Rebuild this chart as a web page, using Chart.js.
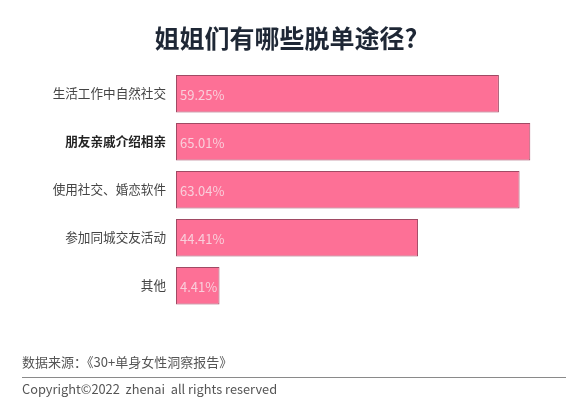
<!DOCTYPE html>
<html>
<head>
<meta charset="utf-8">
<script src="https://cdn.jsdelivr.net/npm/chart.js@4"></script>
<style>
  html, body { margin:0; padding:0; background:#ffffff; }
  #wrap { position:relative; width:588px; height:400px; overflow:hidden; font-family:"Noto Sans CJK SC","Noto Sans",sans-serif; }
  #c { position:absolute; left:0; top:0; }
  #title { position:absolute; left:0; width:572px; top:22px; text-align:center; font-size:25px; font-weight:700; color:#1e2735; line-height:30px; }
  #source { position:absolute; left:22px; top:353px; font-size:13px; color:#555; line-height:18px; }
  #rule { position:absolute; left:22px; top:377px; width:544px; height:1px; background:#8a8a8a; }
  #copy { position:absolute; left:22px; top:380px; font-size:12.8px; color:#555; line-height:18px; }
</style>
</head>
<body>
<div id="wrap">
  <canvas id="c" width="588" height="400"></canvas>
  <div id="title">姐姐们有哪些脱单途径?</div>
  <div id="source">数据来源：《30+单身女性洞察报告》</div>
  <div id="rule"></div>
  <div id="copy">Copyright©2022&nbsp; zhenai&nbsp; all rights reserved</div>
</div>
<script>
const categories = ["生活工作中自然社交", "朋友亲戚介绍相亲", "使用社交、婚恋软件", "参加同城交友活动", "其他"];
const values = [59.25, 65.01, 63.04, 44.41, 4.41];
const valueLabels = ["59.25%", "65.01%", "63.04%", "44.41%", "4.41%"];
const highlightIndex = 1;

const FONT = '"Noto Sans CJK SC","Noto Sans",sans-serif';

const valueLabelPlugin = {
  id: 'valueLabels',
  afterDatasetsDraw(chart) {
    const meta = chart.getDatasetMeta(0);
    const ctx = chart.ctx;
    ctx.save();
    ctx.font = '13px ' + FONT;
    ctx.fillStyle = '#f9cfdb';
    ctx.textAlign = 'left';
    ctx.textBaseline = 'middle';
    meta.data.forEach((bar, i) => {
      ctx.fillText(valueLabels[i], bar.base + 4, bar.y + 1);
    });
    ctx.restore();
  }
};

new Chart(document.getElementById('c'), {
  type: 'bar',
  data: {
    labels: categories,
    datasets: [{
      data: values,
      backgroundColor: '#fd7096',
      borderColor: '#a04a64',
      borderWidth: 1,
      borderSkipped: false,
      minBarLength: 43.5,
      barPercentage: 0.78,
      categoryPercentage: 1.0
    }]
  },
  options: {
    indexAxis: 'y',
    responsive: false,
    animation: false,
    devicePixelRatio: 1,
    layout: { padding: { left: 0, top: 69.7, right: 30.5, bottom: 90.3 } },
    plugins: { legend: { display: false }, tooltip: { enabled: false }, title: { display: false } },
    scales: {
      x: { display: false, min: 0, max: 70 },
      y: {
        grid: { display: false, drawTicks: false },
        border: { display: false },
        afterFit(scale) { scale.width = 176; },
        ticks: {
          padding: 10,
          color: (c) => c.index === highlightIndex ? '#222' : '#444',
          font: (c) => ({ family: FONT, size: 12.6, weight: c.index === highlightIndex ? 'bold' : 'normal' })
        }
      }
    }
  },
  plugins: [valueLabelPlugin]
});
</script>
</body>
</html>
